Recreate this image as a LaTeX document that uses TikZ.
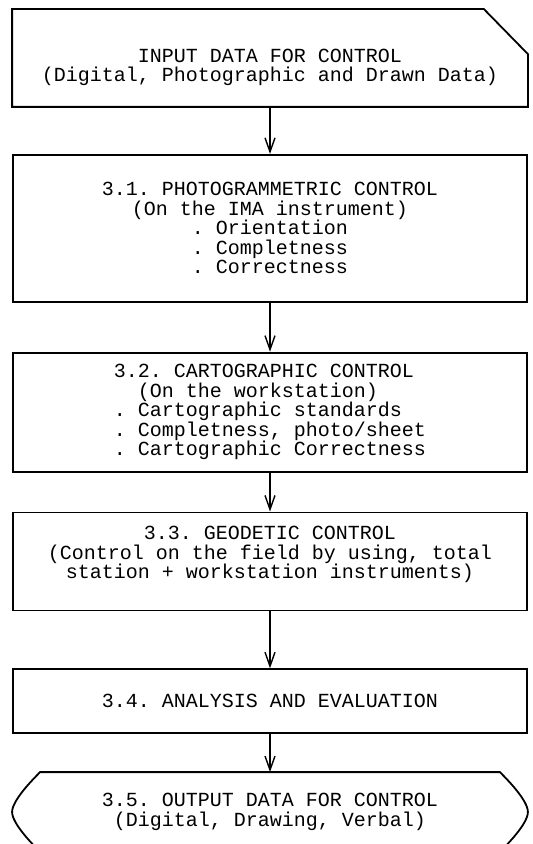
\documentclass[tikz,border=0pt]{standalone}
\usepackage{fontspec}
\setmonofont{Liberation Mono}
\usetikzlibrary{positioning, arrows.meta}
\tikzset{
>={Straight Barb[length=7pt,width=5pt]}, % open v-shaped heads
every node/.style={font=\ttfamily\fontsize{10}{9.75}\selectfont}, % typewriter text
ctrlbox/.style={draw, line width=0.9pt, minimum width=257pt, inner sep=0pt, align=center}, % one control step
flow/.style={->, line width=0.7pt}, % arrow between steps
}

\begin{document}
\begin{tikzpicture}
            \useasboundingbox (0,0) rectangle (266pt,-422pt);
            \node[ctrlbox, draw=none, minimum height=48pt] (input) at (135pt,-29pt)
                {\mbox{}\\[6.5pt]INPUT DATA FOR CONTROL\\(Digital, Photographic and Drawn Data)};
            \node[ctrlbox, minimum height=73.5pt, below=23.5pt of input] (photo)
                {3.1. PHOTOGRAMMETRIC CONTROL\\(On the IMA instrument)\\. Orientation\\. Completness\\. Correctness};
            \node[ctrlbox, minimum height=59.5pt, below=24.5pt of photo, align=left] (carto)
                {3.2. CARTOGRAPHIC CONTROL\\\phantom{3.}(On the workstation)\\. Cartographic standards\\. Completness, photo/sheet\\. Cartographic Correctness};
            \node[ctrlbox, minimum height=49pt, below=19.5pt of carto] (geod)
                {3.3. GEODETIC CONTROL\\(Control on the field by using, total\\station + workstation instruments)\\[-0.75pt]\mbox{}};
            \node[ctrlbox, minimum height=32pt, below=28.5pt of geod] (anal)
                {3.4. ANALYSIS AND EVALUATION};
            \node[ctrlbox, draw=none, minimum height=39pt, below=19pt of anal] (output)
                {3.5. OUTPUT DATA FOR CONTROL\\(Digital, Drawing, Verbal)};

            % input box with cut corner
            \draw[line width=0.9pt] (input.south west) -- (input.north west)
                -- ([xshift=-22pt]input.north east) -- ([yshift=-22.5pt]input.north east)
                -- (input.south east) -- cycle;
            % output (display) shape
            \draw[line width=0.9pt, looseness=0.6] ([xshift=14pt]output.north west) -- ([xshift=-14pt]output.north east)
                to[out=-45, in=90] (output.east) to[out=-90, in=45] ([xshift=-14pt]output.south east)
                -- ([xshift=14pt]output.south west)
                to[out=135, in=-90] (output.west) to[out=90, in=-135] cycle;

            \draw[flow] (input) -- (photo);
            \draw[flow] (photo) -- (carto);
            \draw[flow] (carto) -- (geod);
            \draw[flow] (geod) -- (anal);
            \draw[flow] (anal) -- (output);
\end{tikzpicture}
\end{document}
